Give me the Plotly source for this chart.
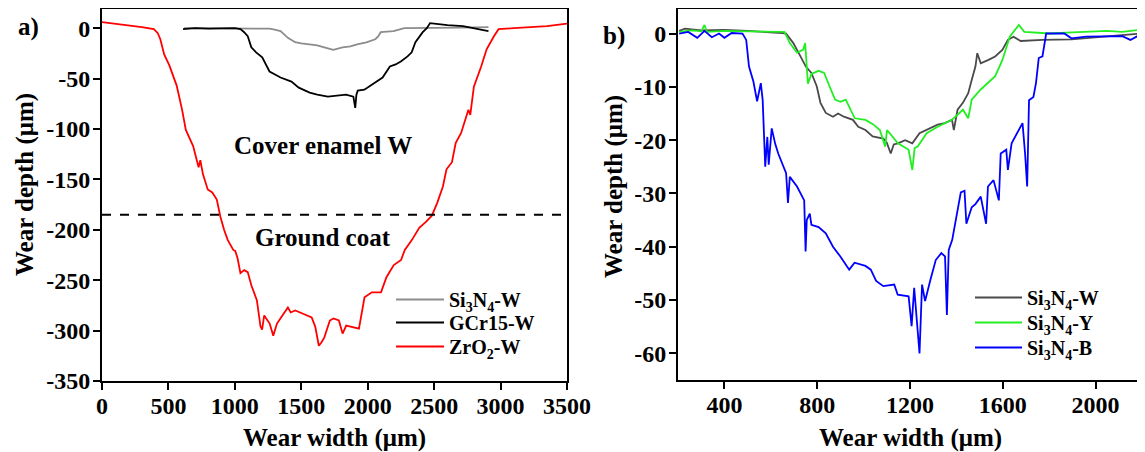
import plotly.graph_objects as go

# ---------------- data ----------------
# Panel a) : wear width (um) vs wear depth (um)
zro2_x = [0, 100, 200, 300, 390, 420, 439, 468, 507, 562, 603, 631, 686, 713, 727, 740, 760, 796, 830, 864,
          891, 919, 946, 988, 1003, 1020, 1042, 1070, 1097, 1124, 1166, 1193, 1205, 1221, 1262, 1289, 1317,
          1358, 1399, 1420, 1454, 1509, 1578, 1605, 1632, 1650, 1673, 1715, 1742, 1783, 1811, 1838, 1893,
          1934, 1976, 2031, 2100, 2141, 2196, 2251, 2279, 2333, 2388, 2440, 2483, 2524, 2566, 2593, 2634,
          2662, 2703, 2758, 2772, 2799, 2854, 2895, 2950, 2985, 3100, 3210, 3350, 3500]
zro2_y = [6, 4.5, 3, 1, -1, -5, -11, -26, -37, -57, -81, -101, -117, -131, -138, -131, -145, -160, -163, -170,
          -187, -200, -210, -220, -221, -228, -243, -240, -242, -255, -270, -296, -299, -285, -293, -305, -293,
          -285, -277, -282, -280, -283, -287, -296, -315, -312, -307, -290, -288, -290, -303, -295, -297,
          -298, -267, -262, -262, -247, -235, -230, -220, -210, -198, -192, -186, -173, -157, -140, -133,
          -114, -104, -81, -86, -58, -38, -21, -8, -1, 0, 1, 2, 4.5]

gcr15_x = [610, 700, 800, 900, 1000, 1042, 1070, 1097, 1124, 1160, 1206, 1261, 1300, 1344, 1426, 1481, 1563,
           1620, 1700, 1760, 1837, 1892, 1906, 1915, 1925, 1975, 2020, 2057, 2112, 2167, 2210, 2249, 2300,
           2331, 2359, 2414, 2445, 2469, 2524, 2600, 2717, 2800, 2909]
gcr15_y = [-1, 0, -0.5, 0, 0, -1, -4, -8, -19, -24, -29, -43, -46, -49, -53, -59, -64,
           -66, -68, -67, -66, -68, -79, -66, -62, -61, -57, -53, -49, -38, -36, -33, -28,
           -24, -14, -4, 0, 5, 4, 3, 2, 0, -3]

si3n4_w_a_x = [617, 800, 1000, 1200, 1261, 1300, 1344, 1399, 1454, 1500, 1563, 1620, 1673, 1741, 1810, 1870,
               1920, 1990, 2057, 2080, 2098, 2194, 2276, 2500, 2700, 2909]
si3n4_w_a_y = [0, 0, -0.5, 0, -0.5, -1.5, -3, -9.6, -13.9, -15, -16, -17, -19, -21.6, -19, -18,
               -16, -14, -11, -8, -4, -3, 0, 0, 0.5, 1]

layer_boundary_depth = -185  # cover enamel / ground coat interface

# Panel b)
si3n4_w_pts = [(205, 0.5), (230, 0.9), (300, 0.6), (400, 0.7), (500, 0.5), (600, 0.3), (651, 0.1), (666, 0),
               (697, -1.8), (728, -4.3), (751, -6.2), (775, -7.4), (798, -9.9), (814, -13), (837, -14.9),
               (868, -15.6), (890, -15), (915, -15.6), (954, -16.2), (977, -17.5), (1008, -18.1),
               (1039, -19.3), (1085, -19.7), (1100, -20.5), (1117, -22.5), (1130, -20.8), (1148, -20.6),
               (1179, -20), (1210, -20.6), (1241, -18.7), (1272, -18.1), (1319, -17.1), (1350, -16.8),
               (1381, -16.2), (1389, -18.1), (1405, -14.3), (1428, -13), (1451, -11.2), (1466, -8.7),
               (1482, -6.2), (1490, -3.7), (1505, -5.6), (1536, -5), (1567, -4.3), (1598, -3.1),
               (1622, -1.2), (1646, -0.6), (1677, -1.4), (1771, -1.2), (1896, -1.1), (2036, -0.6), (2193, 0)]

si3n4_y_pts = [(205, 0.3), (260, 0.6), (300, 0.4), (314, 1.6), (325, 0.3), (400, 0.5), (500, 0.4), (600, 0.3),
               (659, 0.3), (682, -1.8), (713, -3.6), (740, -3), (748, -1.8), (760, -9.4), (775, -7.6),
               (806, -7), (830, -7.4), (853, -9.9), (877, -12.4), (900, -12.8), (923, -12.4), (962, -15.9),
               (1008, -16.2), (1040, -17), (1070, -18.1), (1093, -21.2), (1101, -18.1), (1148, -20.6),
               (1194, -21.8), (1210, -25.6), (1220, -21.5), (1233, -21.2), (1272, -18.7), (1319, -17.5),
               (1381, -16.2), (1428, -14.3), (1451, -15.9), (1466, -12.4), (1505, -10.5), (1567, -8),
               (1598, -5), (1630, -0.6), (1669, 1.6), (1693, 0.3), (1802, 0), (1900, 0.2), (1959, 0.3),
               (2050, 0.5), (2115, 0.3), (2193, 0.7)]

si3n4_b_pts = [(205, 0), (244, 0.3), (283, -0.8), (314, 0.5), (346, -0.7), (377, 0), (400, -0.8), (431, 0.1),
               (478, 0), (494, -1.2), (506, -6.2), (525, -9), (541, -12.7), (557, -9.3), (565, -12.5),
               (576, -25), (585, -19.4), (591, -24.6), (604, -17.8), (619, -20.7), (632, -22.5), (651, -24.4),
               (666, -26.2), (674, -31.8), (682, -26.9), (713, -28.7), (744, -31.3), (750, -40.9), (755, -35),
               (768, -33.8), (775, -35.9), (806, -36.3), (837, -37.5), (868, -40), (899, -41.8), (938, -44.3),
               (961, -43), (1008, -43.6), (1031, -44.3), (1054, -46.4), (1085, -47.4), (1132, -47.1),
               (1147, -49), (1194, -49.3), (1207, -54.9), (1218, -47.7), (1229, -53), (1241, -60),
               (1252, -47.1), (1265, -50.2), (1288, -46.2), (1311, -42.5), (1335, -41.2), (1351, -41.8),
               (1359, -52.8), (1367, -40.6), (1382, -38.7), (1398, -35), (1419, -29.8), (1435, -29.5),
               (1443, -35.7), (1466, -32.6), (1482, -32), (1505, -30.6), (1528, -35.7), (1536, -28.7),
               (1560, -27.5), (1583, -31.3), (1591, -22.5), (1615, -21.8), (1622, -25.6), (1638, -20.6),
               (1661, -18.6), (1685, -16.8), (1696, -22.5), (1705, -28.7), (1713, -12.5), (1732, -11.9),
               (1743, -9.3), (1755, -4.6), (1771, -4.3), (1787, 0), (1865, 0), (1896, -0.9), (1959, -0.6),
               (2036, -0.5), (2115, -0.5), (2150, -1.2), (2193, -0.2)]

a_xticks = [0, 500, 1000, 1500, 2000, 2500, 3000, 3500]
a_yticks = [0, -50, -100, -150, -200, -250, -300, -350]
b_xticks = [400, 800, 1200, 1600, 2000]
b_yticks = [0, -10, -20, -30, -40, -50, -60]

FONT = "Liberation Serif"
OFF = 8                      # default page body margin
W, H = 1145 - OFF, 452 - OFF


def px(xp):
    return (xp - OFF) / W


def py(yp):
    return min(1.0, max(0.0, 1 - (yp - OFF) / H))


fig = go.Figure()


def add(x, y, name, color, xa, ya, leg):
    fig.add_trace(go.Scatter(x=x, y=y, mode="lines", name=name, xaxis=xa, yaxis=ya, legend=leg,
                             line=dict(color=color, width=1.8)))


add(zro2_x, zro2_y, "ZrO<sub>2</sub>-W", "#ff0000", "x", "y", "legend3")
add(si3n4_w_a_x, si3n4_w_a_y, "Si<sub>3</sub>N<sub>4</sub>-W", "#8c8c8c", "x", "y", "legend")
add(gcr15_x, gcr15_y, "GCr15-W", "#000000", "x", "y", "legend2")

for pts, name, color, leg in [(si3n4_w_pts, "Si<sub>3</sub>N<sub>4</sub>-W", "#4a4a4a", "legend4"),
                              (si3n4_y_pts, "Si<sub>3</sub>N<sub>4</sub>-Y", "#22ee22", "legend5"),
                              (si3n4_b_pts, "Si<sub>3</sub>N<sub>4</sub>-B", "#0000ff", "legend6")]:
    add([p[0] for p in pts], [p[1] for p in pts], name, color, "x2", "y2", leg)

# dashed interface line
fig.add_trace(go.Scatter(x=[a_xticks[0], a_xticks[-1]], y=[layer_boundary_depth] * 2, mode="lines",
                         xaxis="x", yaxis="y", showlegend=False, hoverinfo="skip",
                         line=dict(color="black", width=2, dash="dash")))

tickfont = dict(family=FONT, size=24, color="black", weight="bold")
ax_common = dict(showline=True, linecolor="black", linewidth=2, mirror=True, ticks="outside",
                 ticklen=7, tickwidth=2, tickcolor="black", showgrid=False, zeroline=False,
                 tickfont=tickfont, automargin=False)

leg_font = dict(family=FONT, size=20, color="black", weight="bold")


def legend_at(x_px, top_px, itemwidth):
    return dict(x=px(x_px), y=py(top_px), xanchor="left", yanchor="top", bgcolor="rgba(0,0,0,0)",
                itemwidth=itemwidth, font=leg_font)


fig.update_layout(
    width=W, height=H, margin=dict(l=0, r=0, t=0, b=0, autoexpand=False),
    paper_bgcolor="white", plot_bgcolor="white",
    xaxis=dict(domain=[px(102), px(567)], range=[0, 3500], anchor="y", ticklabelstandoff=-5,
               tickvals=a_xticks, ticktext=[str(v) for v in a_xticks], **ax_common),
    yaxis=dict(domain=[py(381), py(9)], range=[-350, 19], anchor="x", ticklabelstandoff=-2,
               tickvals=a_yticks, ticktext=[str(v) for v in a_yticks], **ax_common),
    xaxis2=dict(domain=[px(678), px(1142)], range=[200, 2200], anchor="y2", ticklabelstandoff=-5,
                tickvals=b_xticks, ticktext=[str(v) for v in b_xticks], **ax_common),
    yaxis2=dict(domain=[py(380), py(9)], range=[-65, 4.6], anchor="x2", ticklabelstandoff=-2,
                tickvals=b_yticks, ticktext=[str(v) for v in b_yticks], **ax_common),
    legend=legend_at(391, 280, 48),
    legend2=legend_at(391, 303, 48),
    legend3=legend_at(391, 327, 48),
    legend4=legend_at(970, 278, 47),
    legend5=legend_at(970, 303, 47),
    legend6=legend_at(970, 328, 47),
)

title_font = dict(family=FONT, size=25, color="black", weight="bold")
ann = [
    dict(text="Wear width (μm)", x=px((102 + 567) / 2), y=py(438)),
    dict(text="Wear width (μm)", x=px((678 + 1142) / 2), y=py(438)),
    dict(text="Wear depth (μm)", x=px(25), y=py(185), textangle=-90),
    dict(text="Wear depth (μm)", x=px(614), y=py(187), textangle=-90),
    dict(text="a)", x=px(28), y=py(27)),
    dict(text="b)", x=px(614), y=py(36)),
]
for a in ann:
    fig.add_annotation(xref="paper", yref="paper", showarrow=False, xanchor="center", yanchor="middle",
                       font=title_font, **a)

fig.add_annotation(x=1660, y=-116, xref="x", yref="y", text="Cover enamel W", showarrow=False,
                   font=title_font)
fig.add_annotation(x=1665, y=-208, xref="x", yref="y", text="Ground coat", showarrow=False,
                   font=title_font)

fig.write_html("out.html")
